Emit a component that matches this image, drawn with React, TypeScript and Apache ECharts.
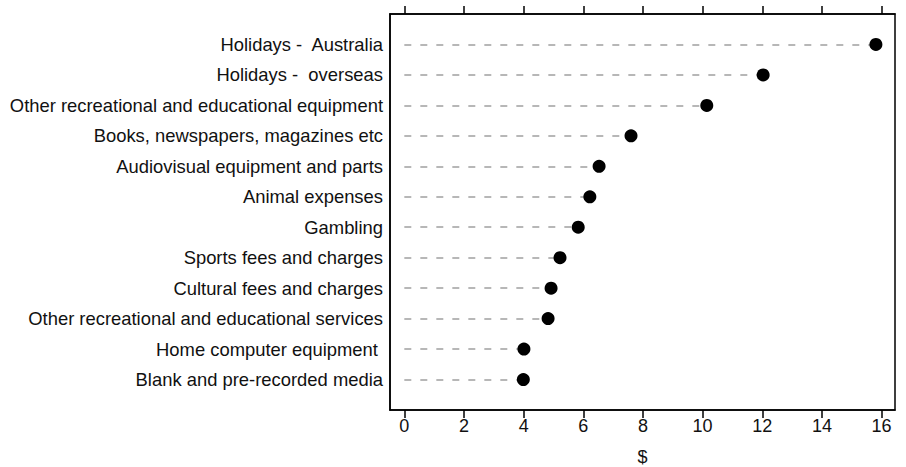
import React, { useEffect, useRef } from "react";
import * as echarts from "echarts";

const categories = [
  "Holidays -  Australia",
  "Holidays -  overseas",
  "Other recreational and educational equipment",
  "Books, newspapers, magazines etc",
  "Audiovisual equipment and parts",
  "Animal expenses",
  "Gambling",
  "Sports fees and charges",
  "Cultural fees and charges",
  "Other recreational and educational services",
  "Home computer equipment ",
  "Blank and pre-recorded media",
];
const values = [15.81, 12.03, 10.14, 7.6, 6.53, 6.22, 5.83, 5.22, 4.92, 4.82, 4.01, 3.99];
const tickValues = [0, 2, 4, 6, 8, 10, 12, 14, 16];

const FONT = "'Liberation Sans', Arial, sans-serif";

export default function App() {
  const ref = useRef<HTMLDivElement>(null);
  useEffect(() => {
    if (!ref.current) return;
    const chart = echarts.init(ref.current, null, { renderer: "svg" });
    const cats = ["", ...categories, " "];
    chart.setOption({
      animation: false,
      backgroundColor: "#fff",
      grid: {
        left: 390,
        right: 11,
        top: 14,
        bottom: 57,
        containLabel: false,
        outerBoundsMode: "none",
        show: true,
        borderColor: "#000",
        borderWidth: 1.5,
        backgroundColor: "transparent",
      },
      xAxis: [
        {
          type: "value",
          position: "bottom",
          min: -0.48,
          max: 16.45,
          splitLine: { show: false },
          axisLine: { show: true, onZero: false, lineStyle: { color: "#000", width: 1.5 } },
          axisTick: { show: true, customValues: tickValues, length: 8, lineStyle: { color: "#000", width: 1.5 } },
          axisLabel: {
            customValues: tickValues,
            color: "#111",
            fontSize: 18,
            fontFamily: FONT,
            margin: 7,
          },
          name: "$",
          nameLocation: "middle",
          nameGap: 38,
          nameTextStyle: { color: "#111", fontSize: 18, fontFamily: FONT },
        },
        {
          type: "value",
          position: "top",
          min: -0.48,
          max: 16.45,
          splitLine: { show: false },
          axisLine: { show: true, onZero: false, lineStyle: { color: "#000", width: 1.5 } },
          axisTick: { show: true, customValues: tickValues, length: 8, lineStyle: { color: "#000", width: 1.5 } },
          axisLabel: { show: false },
        },
      ],
      yAxis: {
        type: "category",
        data: cats,
        inverse: true,
        boundaryGap: false,
        axisLine: { show: true, onZero: false, lineStyle: { color: "#000", width: 1.5 } },
        axisTick: { show: false },
        splitLine: { show: false },
        axisLabel: {
          color: "#111",
          fontSize: 18.4,
          fontFamily: FONT,
          margin: 7,
          interval: 0,
        },
      },
      series: [
        {
          type: "scatter",
          xAxisIndex: 0,
          symbol: "circle",
          symbolSize: 13,
          itemStyle: { color: "#000", opacity: 1 },
          z: 5,
          data: values.map((v, i) => [v, categories[i]]),
          markLine: {
            silent: true,
            symbol: ["none", "none"],
            label: { show: false },
            lineStyle: { color: "#a0a0a0", width: 1.5, type: [7, 9] },
            data: values.map((v, i) => [
              { coord: [0, categories[i]] },
              { coord: [v, categories[i]] },
            ]),
          },
        },
      ],
    });
    return () => chart.dispose();
  }, []);
  return <div ref={ref} style={{ width: 906, height: 467, position: "absolute", left: 0, top: 0 }} />;
}
